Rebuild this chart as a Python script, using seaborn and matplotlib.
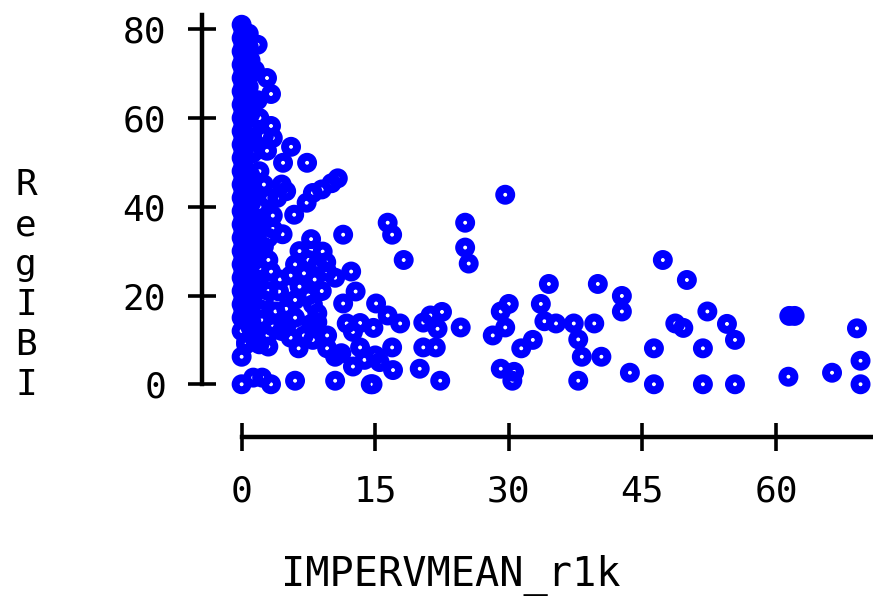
import matplotlib
matplotlib.use("Agg")
import matplotlib.pyplot as plt
import seaborn as sns
import pandas as pd

# IMPERVMEAN_r1k (x) and RegIBI (y)
imperv = [
    # dense column near zero imperviousness
    0.0, 0.0, 0.0, 0.0, 0.0, 0.0, 0.0, 0.0, 0.0, 0.0, 0.0, 0.0, 0.0, 0.0,
    0.0, 0.0, 0.0, 0.0, 0.0, 0.0, 0.0, 0.0, 0.0, 0.0, 0.0,
    0.2, 0.2, 0.2, 0.2, 0.2, 0.2, 0.2, 0.2, 0.2, 0.2, 0.2, 0.2, 0.2, 0.2,
    0.2, 0.2, 0.2, 0.2, 0.2, 0.2, 0.2, 0.2,
    0.8, 0.8, 1.0, 0.8, 1.0, 0.8, 1.0, 1.0, 0.8, 1.0, 0.8, 1.0, 0.8, 1.0,
    1.0, 0.5,
    1.1, 1.2, 1.0, 1.2, 1.1, 1.2, 1.0, 1.2, 1.1, 1.0, 1.2, 1.1,
    1.5, 2.85, 3.3, 3.3, 1.5, 2.85, 5.55, 4.65, 7.35, 1.8, 1.8, 2.0, 2.5,
    3.5, 2.0, 2.5, 3.0, 2.0, 3.5, 2.0, 3.0, 1.8, 3.0, 2.0, 1.9, 3.3, 4.3,
    4.2, 2.5, 3.8, 2.2, 2.9, 3.5, 1.5, 2.0, 3.0, 1.5, 2.5, 3.5, 1.5,
    4.5, 5.0, 4.0, 5.9, 7.3, 8.0, 9.0, 10.1, 10.8, 4.6,
    # cluster between 4 and 11
    9.1, 9.6, 8.2, 7.8, 9.6, 6.4, 9.6, 10.5, 7.8, 6.0, 7.0, 5.5, 6.5,
    7.5, 8.0, 8.5, 6.0, 5.0, 6.0, 5.0, 7.0, 8.0, 5.5, 4.5, 8.5, 9.5,
    10.5, 7.5, 6.5, 9.0, 8.5, 0.5, 2.0, 3.0,
    # bottom row
    0.0, 3.3, 1.3, 2.3, 6.0, 10.5, 14.7, 22.3, 37.8, 46.3, 51.8, 55.4,
    61.4, 66.3, 69.5, 43.6,
    # middle range
    11.4, 16.4, 16.9, 18.2, 25.1, 25.1, 25.5, 12.3, 12.8, 11.4, 15.1,
    16.4, 17.8, 11.8, 13.3, 14.8, 12.5, 20.4, 21.2, 22.5, 22.0, 24.6,
    20.4, 21.8, 13.3, 16.9, 13.8, 15.5, 12.5, 17.0, 20.0, 11.2, 15.0,
    14.5, 29.6,
    # upper right range
    29.6, 28.2, 32.7, 31.4, 30.0, 29.1, 33.6, 34.5, 34.0, 35.3, 37.3,
    39.6, 37.8, 38.2, 40.4, 29.1, 30.6, 30.4, 40.0, 42.7, 42.7, 47.3,
    50.0, 48.7, 49.6, 52.3, 54.5, 55.4, 46.3, 51.8, 61.5, 62.1, 69.1,
    69.5,
]
regibi = [
    81.0, 78.0, 75.0, 72.0, 69.0, 66.0, 63.0, 60.0, 57.0, 54.0, 51.0,
    48.0, 45.0, 42.0, 39.0, 36.0, 33.0, 30.0, 27.0, 24.0, 21.0, 18.0,
    15.0, 6.2, 12.0,
    79.5, 76.5, 73.5, 70.5, 67.5, 64.5, 61.5, 58.5, 55.5, 52.5, 49.5,
    46.5, 43.5, 40.5, 37.5, 34.5, 31.5, 28.5, 25.5, 22.5, 19.5, 16.5,
    79.0, 76.0, 73.0, 67.0, 61.0, 55.0, 47.0, 43.0, 39.0, 35.0, 31.0,
    27.0, 20.0, 16.0, 12.8, 9.5,
    70.0, 64.0, 58.0, 52.0, 41.0, 37.0, 33.0, 29.0, 24.0, 22.0, 18.0, 14.0,
    70.8, 69.0, 65.4, 58.2, 52.6, 52.6, 53.5, 49.9, 49.9, 76.5, 64.0,
    60.0, 56.0, 55.5, 48.0, 45.0, 42.0, 40.0, 38.0, 36.0, 33.0, 30.0,
    28.0, 26.0, 23.6, 25.4, 23.6, 20.9, 19.0, 16.4, 14.5, 11.0, 13.0,
    10.0, 17.0, 21.0, 28.0, 31.0, 35.0, 37.0,
    45.0, 43.5, 42.0, 38.2, 40.9, 43.1, 43.9, 45.3, 46.4, 33.8,
    29.9, 25.4, 23.6, 32.7, 11.0, 8.1, 8.1, 6.2, 13.6, 27.0, 25.0, 24.5,
    22.0, 20.0, 18.0, 16.0, 19.0, 17.0, 15.0, 13.0, 11.0, 10.0, 10.5,
    12.0, 27.0, 27.5, 24.0, 28.0, 30.0, 21.0, 14.0, 9.0, 9.0, 8.5,
    0.0, 0.0, 1.5, 1.5, 0.8, 0.8, 0.0, 0.8, 0.8, 0.0, 0.0, 0.0,
    1.7, 2.6, 0.0, 2.6,
    33.7, 36.4, 33.7, 28.0, 36.4, 30.8, 27.2, 25.4, 20.9, 18.2, 18.2,
    15.5, 13.7, 13.7, 13.8, 12.7, 11.8, 13.9, 15.5, 16.3, 12.5, 12.8,
    8.3, 8.3, 8.3, 8.3, 5.5, 5.0, 4.0, 3.2, 3.5, 7.0, 6.5,
    0.0, 42.7,
    12.8, 11.0, 10.0, 8.1, 18.1, 16.4, 18.1, 22.6, 14.2, 13.7, 13.7,
    13.7, 10.1, 6.2, 6.2, 3.5, 2.8, 0.8, 22.6, 19.9, 16.4, 28.0,
    23.5, 13.7, 12.7, 16.4, 13.6, 10.0, 8.1, 8.1, 15.4, 15.4, 12.6,
    5.3,
]
df = pd.DataFrame({"IMPERVMEAN_r1k": imperv, "RegIBI": regibi})

xticks = [0, 15, 30, 45, 60]
yticks = [0, 20, 40, 60, 80]

sns.set_style("white")
plt.rcParams["font.family"] = ["DejaVu Sans Mono", "DejaVu Sans"]
plt.rcParams["text.color"] = "black"
plt.rcParams["axes.labelcolor"] = "black"

fig = plt.figure(figsize=(8.73, 5.98), dpi=100)
ax = fig.add_axes([202 / 873, 1 - 437 / 598, 671 / 873, 422 / 598])

sns.scatterplot(data=df, x="IMPERVMEAN_r1k", y="RegIBI", ax=ax,
                marker="o", s=75, facecolors="none", edgecolors="blue",
                linewidth=5.7, clip_on=False, legend=False)
ax.collections[0].set_facecolor("none")

ax.set_xlim(-4.45, 70.9)
ax.set_ylim(-11.88, 83.2)
ax.set_xticks(xticks)
ax.set_yticks(yticks)

for s in ["top", "right"]:
    ax.spines[s].set_visible(False)
ax.spines["left"].set_bounds(0, 83.2)
ax.spines["bottom"].set_bounds(0, 70.9)
for s in ["left", "bottom"]:
    ax.spines[s].set_linewidth(3.2)
    ax.spines[s].set_color("black")

ax.tick_params(axis="both", direction="inout", length=20, width=2.6,
               colors="black", labelsize=26, bottom=True, left=True)
ax.tick_params(axis="y", pad=16)
ax.tick_params(axis="x", pad=17)

ax.set_xlabel("IMPERVMEAN_r1k", fontsize=29, color="black")
ax.xaxis.set_label_coords(0.371, -0.352)
ax.xaxis.label.set_va("baseline")
ax.set_ylabel("R\ne\ng\nI\nB\nI", fontsize=26, rotation=0, linespacing=1.22,
              color="black")
ax.yaxis.set_label_coords(-0.262, 0.36)
ax.yaxis.label.set_va("center")
ax.yaxis.label.set_ha("center")

fig.savefig("out.png", dpi=100)
